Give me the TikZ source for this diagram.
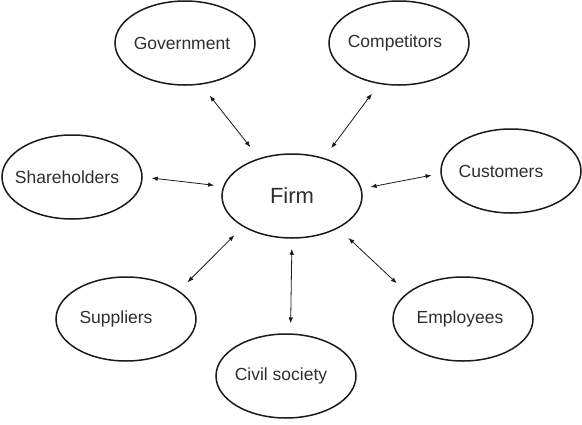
\documentclass[tikz,border=0pt]{standalone}
\usepackage{fontspec}
\setmainfont{Liberation Sans}
\usepackage{tikz}
\usetikzlibrary{arrows.meta,shapes.geometric}
\definecolor{inkgray}{HTML}{2E2E2E}
\definecolor{linegray}{HTML}{1A1A1A}
\tikzset{
  party/.style={
    ellipse, draw=linegray, line width=1.5pt,
    minimum width=140pt, minimum height=84pt, inner sep=0pt
  },
  partylabel/.style={
    font=\fontsize{17.5}{20}\selectfont, text=inkgray, inner sep=0pt
  },
  linkarrow/.style={
    {Latex[length=6pt,width=4.5pt]}-{Latex[length=6pt,width=4.5pt]},
    line width=0.8pt, color=linegray, shorten <=#1, shorten >=#1
  },
  linkarrow/.default=11pt,
}
\begin{document}
\begin{tikzpicture}[x=1pt,y=-1pt]
  \useasboundingbox (0,0) rectangle (582,424);

  % Central firm
  \node[party, label={[partylabel, font=\fontsize{22}{25}\selectfont]center:Firm}] (firm) at (292,196) {};

  % Stakeholders around the firm
  \node[party, label={[partylabel, xshift=-3pt]center:Government}] (gov) at (185,43) {};
  \node[party, label={[partylabel, xshift=-4pt]center:Competitors}] (comp) at (399,43) {};
  \node[party, label={[partylabel, xshift=-5pt]center:Shareholders}] (share) at (72,177) {};
  \node[party, label={[partylabel, xshift=-10pt]center:Customers}] (cust) at (511,171) {};
  \node[party, label={[partylabel, xshift=-10pt]center:Suppliers}] (supp) at (126,319) {};
  \node[party, label={[partylabel, xshift=-3pt]center:Employees}] (empl) at (463,319) {};
  \node[party, label={[partylabel, xshift=-5pt]center:Civil society}] (civil) at (286,376) {};

  % Two-way links
  \draw[linkarrow=14pt] (gov.-69) -- (firm.131);
  \draw[linkarrow=12pt] (comp.-116) -- (firm.50);
  \draw[linkarrow=9pt] (share.0) -- (firm.172);
  \draw[linkarrow=9pt] (cust.182) -- (firm.6);
  \draw[linkarrow=12pt] (supp.28) -- (firm.212);
  \draw[linkarrow=14pt] (empl.155) -- (firm.-35);
  \draw[linkarrow=10pt] (civil.84) -- (firm.-90);
\end{tikzpicture}
\end{document}
